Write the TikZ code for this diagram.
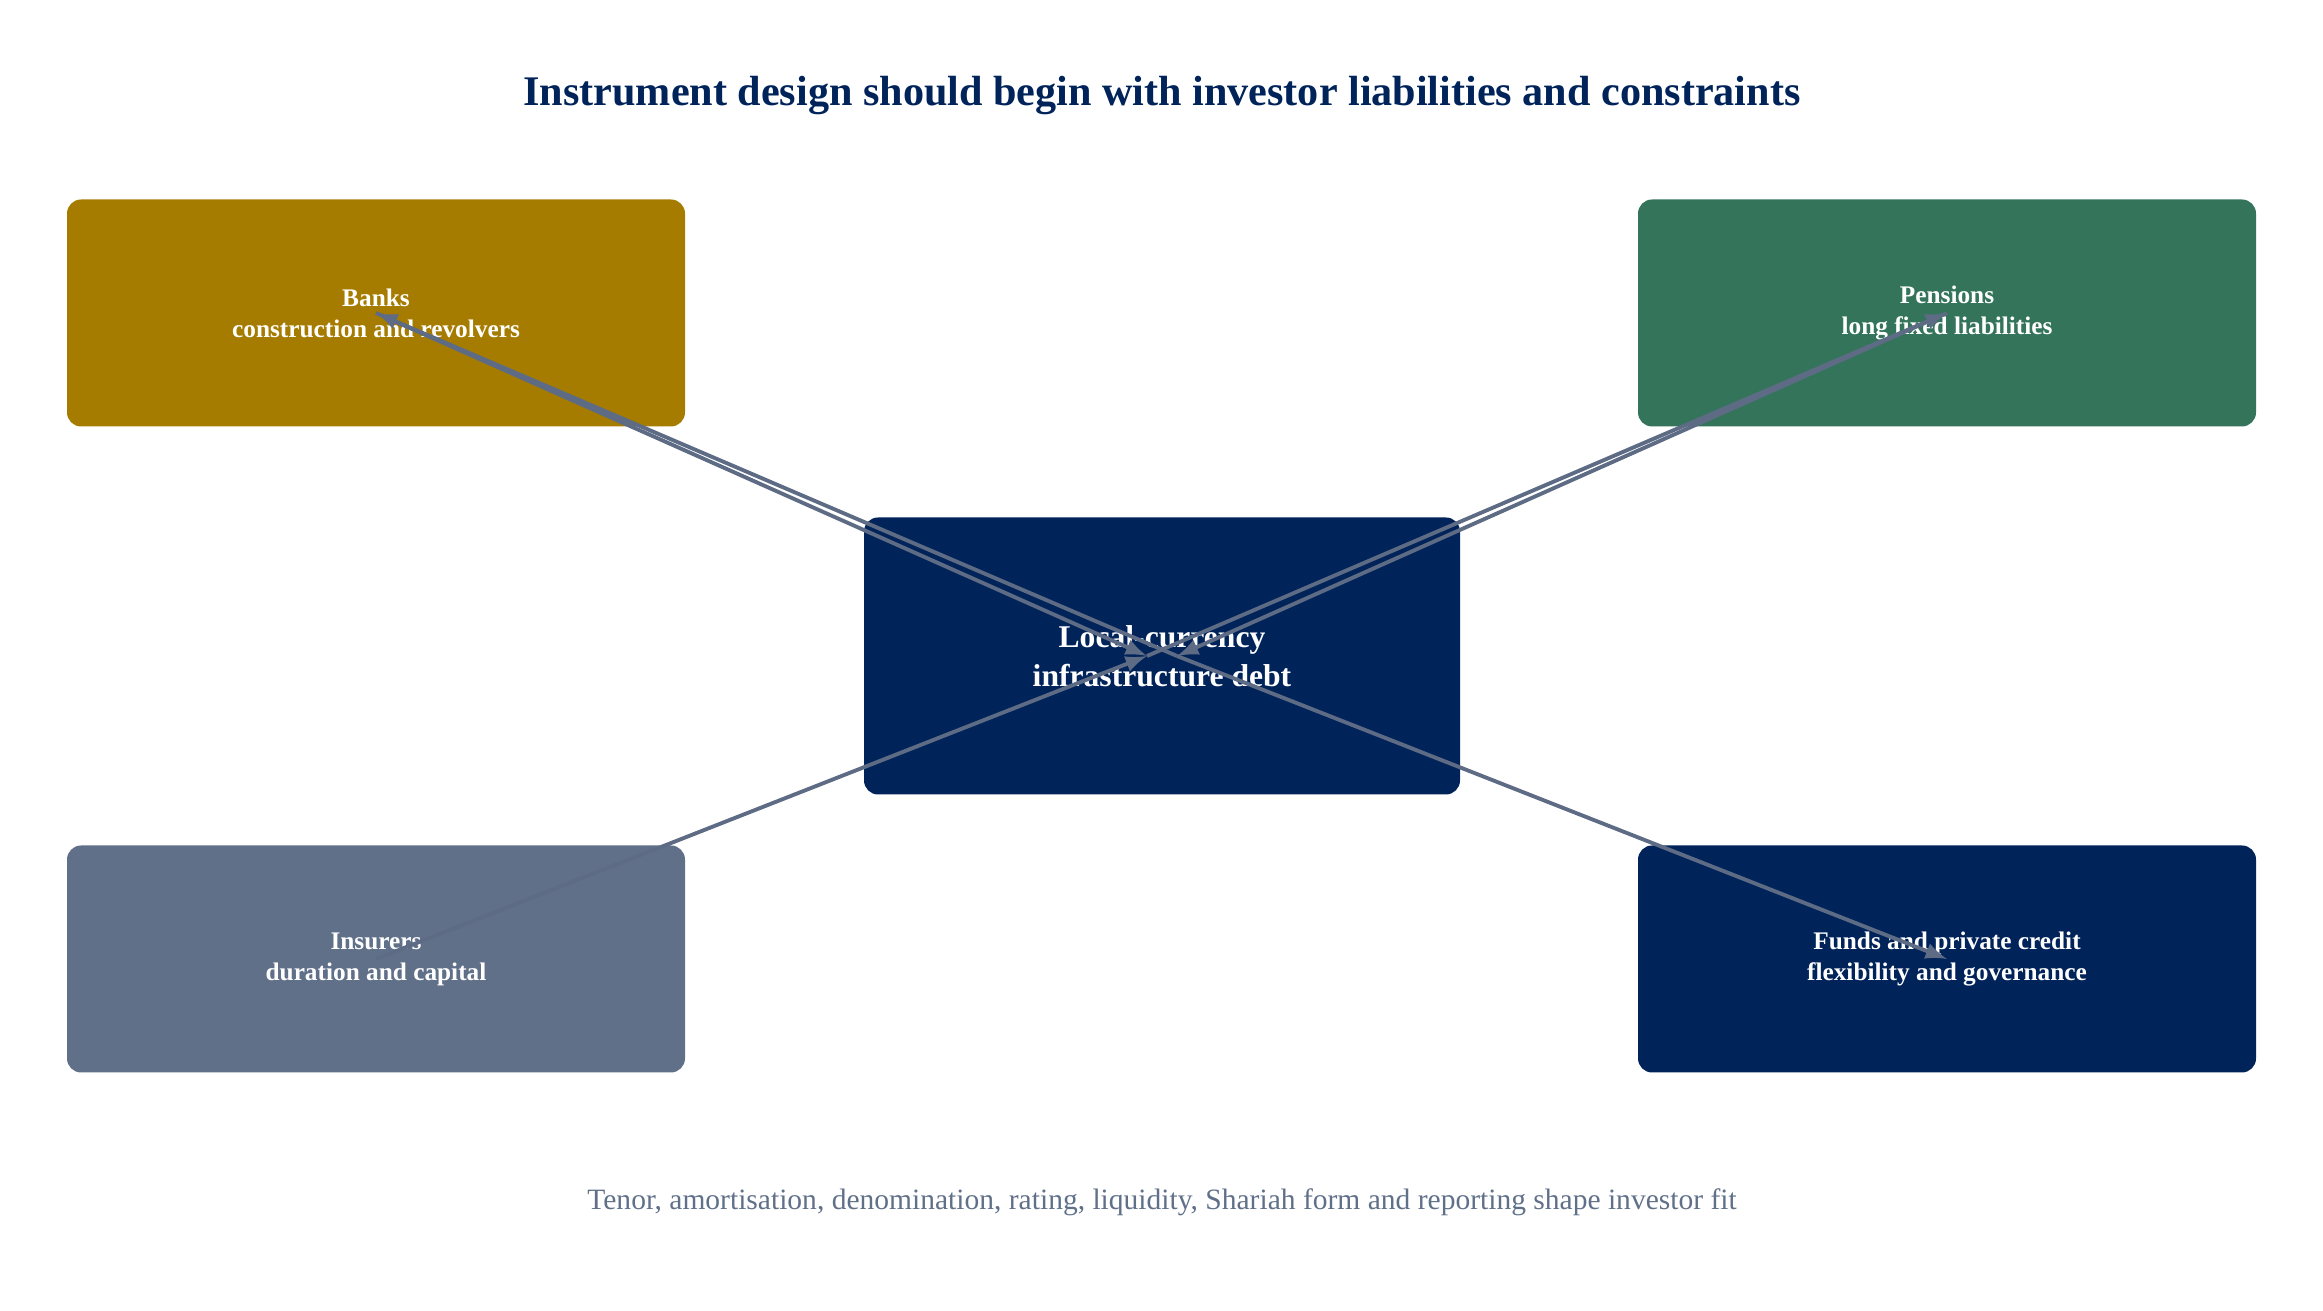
\documentclass[tikz,border=0pt]{standalone}
\usepackage{fontspec}
\setmainfont{Liberation Serif}
\usetikzlibrary{positioning}
\definecolor{navy}{HTML}{00235A}
\definecolor{gold}{HTML}{A67C00}
\definecolor{pine}{HTML}{33745A}
\definecolor{slate}{HTML}{607089}
\definecolor{wire}{HTML}{5E6B85}
\begin{document}
\begin{tikzpicture}[>=latex, font=\bfseries]
	\tikzstyle{investor} = [rectangle, rounded corners=4pt, minimum width=6.18cm, minimum height=2.27cm, align=center, text=white, font=\fontsize{7.2}{8.8}\selectfont\bfseries]
	\tikzstyle{link} = [draw=wire, line width=1.1pt]
	\useasboundingbox (0,0) rectangle (23.23,13.11);
	\node[text=navy, font=\fontsize{12}{14}\selectfont\bfseries] (title) at (11.62,12.15) {Instrument design should begin with investor liabilities and constraints};
	\node[investor, fill=gold] (banks) at (3.76,9.98) {Banks\\construction and revolvers};
	\node[investor, fill=pine] (pensions) at (19.47,9.98) {Pensions\\long fixed liabilities};
	\node[investor, fill=slate] (insurers) at (3.76,3.52) {Insurers\\duration and capital};
	\node[investor, fill=navy] (funds) at (19.47,3.52) {Funds and private credit\\flexibility and governance};
	\node[investor, fill=navy, minimum width=5.96cm, minimum height=2.77cm, font=\fontsize{9}{11}\selectfont\bfseries] (hub) at (11.62,6.55) {Local-currency\\infrastructure debt};
	\node[text=slate, font=\fontsize{8.4}{10}\selectfont] (caption) at (11.62,1.09) {Tenor, amortisation, denomination, rating, liquidity, Shariah form and reporting shape investor fit};
	\coordinate (hubl) at ([xshift=-0.15cm]hub.center);
	\coordinate (hubr) at ([xshift=0.15cm]hub.center);
	\draw[link, ->] (hubr) -- (banks.center);
	\draw[link, ->] (hubl) -- (pensions.center);
	\draw[link, ->] (insurers.center) -- (hubl);
	\draw[link, ->] (hubr) -- (funds.center);
	\draw[link, ->] (banks.center) -- (hubl);
	\draw[link, ->] (pensions.center) -- (hubr);
\end{tikzpicture}
\end{document}
